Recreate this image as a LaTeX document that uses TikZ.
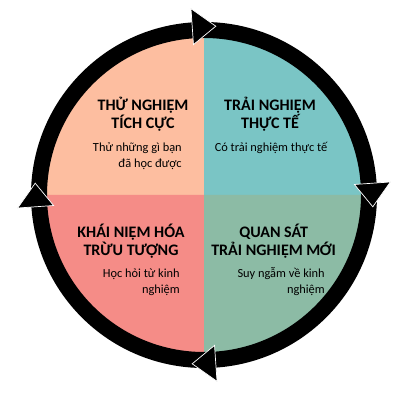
\documentclass[tikz,border=0pt]{standalone}
\usepackage{fontspec}
\setmainfont{Carlito}
\definecolor{expeach}{RGB}{253, 190, 160}
\definecolor{exteal}{RGB}{122, 197, 197}
\definecolor{exsalmon}{RGB}{245, 140, 135}
\definecolor{exsage}{RGB}{140, 187, 165}
\usetikzlibrary{calc}
\tikzset{
  quadtitle/.style={font=\fontsize{11.4}{12.8}\selectfont\bfseries, align=center, inner sep=0pt},
  quadnote/.style={font=\fontsize{8.8}{11.3}\selectfont, inner sep=0pt}
}

\begin{document}
\begin{tikzpicture}
  \useasboundingbox (-5.1, -5.125) rectangle (4.9, 4.875);

  % Quadrants
  \fill[expeach] (0,0) -- (90:4.1) arc (90:180:4.1) -- cycle;
  \fill[exteal] (0,0) -- (0:4.1) arc (0:90:4.1) -- cycle;
  \fill[exsalmon] (0,0) -- (180:4.1) arc (180:270:4.1) -- cycle;
  \fill[exsage] (0,0) -- (270:4.1) arc (270:360:4.1) -- cycle;

  % Ring
  \draw[line width=0.4cm] (0,0) circle (4.125);

  % Arrow heads (clockwise)
  \foreach \a in {90, 0, -90, 180} {
    \filldraw[draw=white, fill=black, line width=0.5pt]
      (\a+4:3.77) -- (\a-4:4.23) -- (\a+4:4.67) -- cycle;
  }

  % Top left
  \node[quadtitle] (tltitle) at (-1.525, 2.02) {THỬ NGHIỆM\\TÍCH CỰC};
  \node[quadnote, anchor=east, align=right] (tlnote) at (-0.55, 0.98) {Thử những gì bạn\\đã học được};

  % Top right
  \node[quadtitle] (trtitle) at (1.65, 2.02) {TRẢI NGHIỆM\\THỰC TẾ};
  \node[quadnote, align=center] (trnote) at (1.675, 1.18) {Có trải nghiệm thực tế};

  % Bottom left
  \node[quadtitle] (bltitle) at (-1.825, -1.15) {KHÁI NIỆM HÓA\\TRỪU TƯỢNG};
  \node[quadnote, anchor=east, align=right] (blnote) at (-0.6, -2.17) {Học hỏi từ kinh\\nghiệm};

  % Bottom right
  \node[quadtitle] (brtitle) at (1.74, -1.15) {QUAN SÁT\\TRẢI NGHIỆM MỚI};
  \node[quadnote, anchor=east, align=right] (brnote) at (3.025, -2.17) {Suy ngẫm về kinh\\nghiệm};
\end{tikzpicture}
\end{document}
